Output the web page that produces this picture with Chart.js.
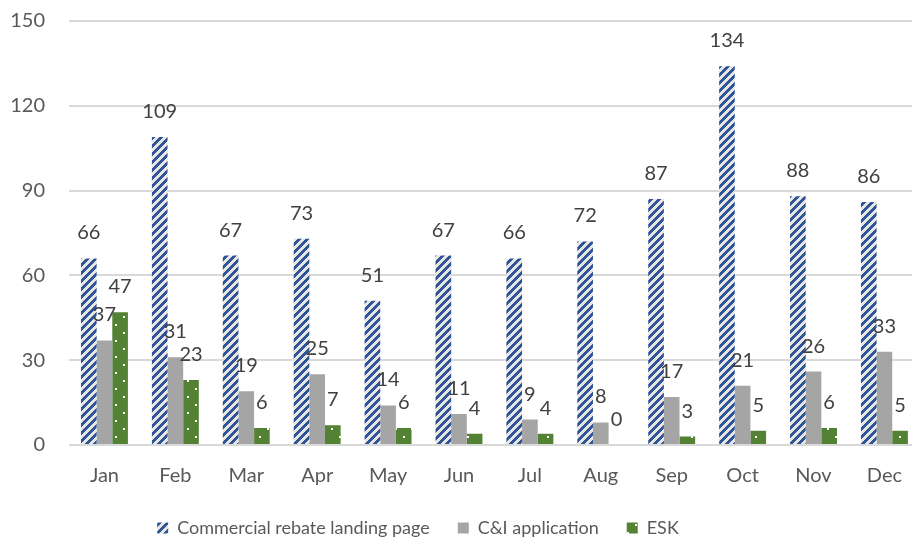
<!DOCTYPE html>
<html>
<head>
<meta charset="utf-8">
<script src="https://cdn.jsdelivr.net/npm/chart.js@4/dist/chart.umd.min.js"></script>
<style>
  html, body { margin: 0; padding: 0; overflow: hidden; background: #fff; }
  #wrap { width: 921px; height: 542px; }
</style>
</head>
<body>
<div id="wrap"><canvas id="chart" width="921" height="542"></canvas></div>
<script>
// chart data
const months = ['Jan', 'Feb', 'Mar', 'Apr', 'May', 'Jun', 'Jul', 'Aug', 'Sep', 'Oct', 'Nov', 'Dec'];
const landingPage = [66, 109, 67, 73, 51, 67, 66, 72, 87, 134, 88, 86];
const ciApplication = [37, 31, 19, 25, 14, 11, 9, 8, 17, 21, 26, 33];
const esk = [47, 23, 6, 7, 6, 4, 4, 0, 3, 5, 6, 5];
const seriesNames = ['Commercial rebate landing page', 'C&I application', 'ESK'];
const yMax = 150;
const yStep = 30;

const FONT = 'Lato, "Open Sans", sans-serif';

// pixel patterns like the Excel fills
function stripePattern() {
    const c = document.createElement('canvas');
    c.width = 8; c.height = 8;
    const g = c.getContext('2d');
    g.fillStyle = '#e7e6e6';
    g.fillRect(0, 0, 8, 8);
    g.fillStyle = '#2f5597';
    for (let y = 0; y < 8; y++) {
        for (let x = 0; x < 8; x++) {
            if ((x + y) % 8 < 4) g.fillRect(x, y, 1, 1);
        }
    }
    return g.createPattern(c, 'repeat');
}

function dotPattern() {
    const c = document.createElement('canvas');
    c.width = 16; c.height = 16;
    const g = c.getContext('2d');
    g.fillStyle = '#548235';
    g.fillRect(0, 0, 16, 16);
    g.fillStyle = '#ffffff';
    g.fillRect(3, 4, 2, 2);
    g.fillRect(11, 12, 2, 2);
    return g.createPattern(c, 'repeat');
}

// numbers above each bar
const valueLabels = {
    id: 'valueLabels',
    afterDatasetsDraw(chart) {
        const ctx = chart.ctx;
        ctx.save();
        ctx.font = '20px ' + FONT;
        ctx.fillStyle = '#404040';
        ctx.textAlign = 'center';
        ctx.textBaseline = 'alphabetic';
        chart.data.datasets.forEach((ds, i) => {
            chart.getDatasetMeta(i).data.forEach((bar, j) => {
                ctx.fillText(String(ds.data[j]), bar.x, bar.y - 19);
            });
        });
        ctx.restore();
    }
};

// legend sits centred on the original (narrower) chart, not the canvas
const legendPlace = {
    id: 'legendPlace',
    beforeDraw(chart) {
        const lg = chart.legend;
        if (!lg || !lg.legendHitBoxes || !lg.legendHitBoxes.length) return;
        const pad = lg.options.labels.padding;
        const ih = lg.legendHitBoxes[0].height;
        lg.left = 0;
        lg.right = 836;
        lg.top = 528 - pad - ih / 2;
    }
};

new Chart(document.getElementById('chart'), {
    type: 'bar',
    data: {
        labels: months,
        datasets: [
            { label: seriesNames[0], data: landingPage, backgroundColor: stripePattern() },
            { label: seriesNames[1], data: ciApplication, backgroundColor: '#a5a5a5' },
            { label: seriesNames[2], data: esk, backgroundColor: dotPattern() }
        ]
    },
    options: {
        responsive: false,
        animation: false,
        layout: { padding: { top: 21, right: 0, bottom: 0, left: 0 } },
        datasets: {
            bar: { categoryPercentage: 0.662, barPercentage: 1, borderWidth: 0 }
        },
        scales: {
            x: {
                grid: { display: false, drawTicks: false },
                border: { display: false },
                ticks: { color: '#595959', font: { family: FONT, size: 20 }, padding: 19 },
                afterFit(scale) {
                    scale.height = 542 - 445 - scale.chart.legend.height;
                }
            },
            y: {
                min: 0,
                max: yMax,
                ticks: { stepSize: yStep, color: '#595959', font: { family: FONT, size: 20 }, padding: 0 },
                // invisible tick marks push the labels left without adding top padding
                grid: { color: '#d9d9d9', lineWidth: 2, drawTicks: true, tickLength: 24, tickColor: 'rgba(0,0,0,0)' },
                border: { display: false },
                afterFit(scale) { scale.width = 69; }
            }
        },
        plugins: {
            legend: {
                position: 'bottom',
                maxHeight: 36,
                labels: {
                    color: '#595959',
                    font: { family: FONT, size: 18 },
                    boxWidth: 11,
                    boxHeight: 11,
                    padding: 28
                }
            },
            tooltip: { enabled: false }
        }
    },
    plugins: [valueLabels, legendPlace]
});
</script>
</body>
</html>
